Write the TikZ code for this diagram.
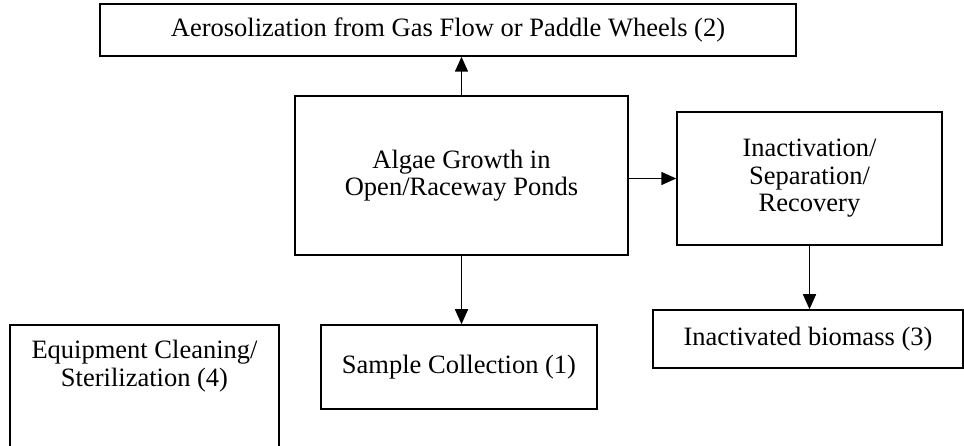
\documentclass[tikz,border=0pt]{standalone}
\usepackage{fontspec}
\setmainfont{Liberation Serif}
\usetikzlibrary{arrows.meta}
\begin{document}
\begin{tikzpicture}[x=1pt,y=-1pt,
  txt/.style={inner sep=0pt, align=center, font=\fontsize{26.5}{27.5}\selectfont},
  box/.style={txt, draw, line width=1.5pt},
  arr/.style={line width=1.5pt, -{Triangle[length=15pt,width=13pt]}}]
\clip (0,0) rectangle (964,446);
\node[box, minimum width=696pt, minimum height=52pt] (top) at (448,30) {Aerosolization from Gas Flow or Paddle Wheels (2)};
\node[box, minimum width=333pt, minimum height=159pt] (grow) at (461.5,175.5) {Algae Growth in\\Open/Raceway Ponds};
\node[box, minimum width=265pt, minimum height=133pt] (inact) at (809.5,178.5) {Inactivation/\\Separation/\\Recovery};
\node[box, minimum width=310pt, minimum height=58pt] (bio) at (808,339) {Inactivated biomass (3)};
\node[box, minimum width=276pt, minimum height=84pt] (sample) at (459,367) {Sample Collection (1)};
\node[txt] (equip) at (144.5,366) {Equipment Cleaning/\\Sterilization (4)};
\coordinate (eqbl) at (10,470);
\coordinate (eqtr) at (279,325);
\draw[line width=1.5pt] (eqbl) |- (eqtr) -- (eqtr |- eqbl);
\draw[arr] (grow.north) -- (grow.north |- top.south);
\draw[arr] (inact.west -| grow.east) -- (inact.west);
\draw[arr] (grow.south) -- (grow.south |- sample.north);
\draw[arr] (inact.south) -- (inact.south |- bio.north);
\end{tikzpicture}
\end{document}
